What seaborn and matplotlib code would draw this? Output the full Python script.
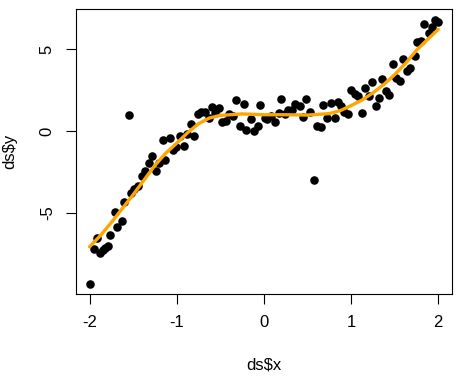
import matplotlib
matplotlib.use("Agg")
import matplotlib.pyplot as plt
import pandas as pd
import seaborn as sns

# Puntos
x_vals = [-2.00, -1.95, -1.92, -1.88, -1.85, -1.82, -1.79, -1.76, -1.71, -1.68,
          -1.63, -1.60, -1.55, -1.52, -1.49, -1.45, -1.40, -1.36, -1.32, -1.28,
          -1.24, -1.20, -1.16, -1.13, -1.08, -1.04, -1.01, -0.96, -0.92, -0.88,
          -0.84, -0.80, -0.76, -0.72, -0.68, -0.63, -0.60, -0.56, -0.52, -0.48,
          -0.44, -0.40, -0.36, -0.32, -0.28, -0.23, -0.20, -0.15, -0.11, -0.07,
          -0.04, 0.01, 0.04, 0.08, 0.13, 0.17, 0.20, 0.24, 0.28, 0.32,
          0.36, 0.41, 0.45, 0.48, 0.53, 0.57, 0.61, 0.65, 0.68, 0.72,
          0.77, 0.81, 0.85, 0.88, 0.92, 0.96, 1.00, 1.04, 1.08, 1.12,
          1.16, 1.20, 1.24, 1.28, 1.32, 1.36, 1.40, 1.44, 1.48, 1.52,
          1.56, 1.60, 1.64, 1.68, 1.73, 1.76, 1.80, 1.84, 1.89, 1.93,
          1.96, 2.00]
y_vals = [-9.34, -7.25, -6.56, -7.50, -7.30, -7.15, -7.05, -6.39, -4.98, -5.90,
          -5.53, -4.36, 0.98, -3.81, -3.52, -3.36, -2.73, -2.46, -1.97, -1.52,
          -2.42, -1.97, -0.55, -1.76, -0.41, -1.19, -0.98, -0.33, -0.90, -0.18,
          0.45, -0.29, 1.02, 1.19, 1.19, 0.80, 1.48, 1.11, 1.41, 0.55,
          0.64, 1.05, 0.94, 1.93, 0.29, 1.66, 0.08, 0.76, -0.02, 0.33,
          1.60, 0.80, 0.76, 0.90, 0.53, 1.11, 1.97, 1.02, 1.27, 1.31,
          1.68, 1.52, 0.86, 1.97, 1.15, -3.01, 0.33, 0.25, 1.60, 0.80,
          1.72, 0.80, 1.76, 1.56, 1.15, 1.05, 2.54, 2.30, 2.13, 1.11,
          2.64, 2.13, 3.01, 1.52, 2.01, 3.20, 2.48, 2.23, 4.12, 3.28,
          3.05, 4.43, 3.67, 3.89, 4.59, 5.47, 5.51, 6.58, 6.02, 6.37,
          6.80, 6.70]

# Curva suavizada (naranja)
curve_x = [-2.0, -1.875, -1.75, -1.625, -1.5, -1.375, -1.25, -1.125, -1.0, -0.875,
           -0.75, -0.625, -0.5, -0.25, 0.0, 0.25, 0.5, 0.75, 0.875, 1.0,
           1.125, 1.25, 1.375, 1.5, 1.625, 1.75, 1.875, 2.0]
curve_y = [-7.09, -6.40, -5.60, -4.75, -3.90, -3.00, -2.10, -1.35, -0.74, -0.10,
           0.45, 0.80, 0.96, 1.05, 1.00, 1.00, 0.98, 1.07, 1.25, 1.56,
           1.90, 2.34, 2.85, 3.46, 4.15, 4.95, 5.60, 6.23]

ds = pd.DataFrame({"x": x_vals, "y": y_vals})
curva = pd.DataFrame({"x": curve_x, "y": curve_y})

sns.set_style("white")
plt.rcParams["font.family"] = ["Liberation Sans", "DejaVu Sans"]
plt.rcParams["axes.unicode_minus"] = False

fig = plt.figure(figsize=(4.61, 3.79), dpi=100)
ax = fig.add_axes([0.164, 0.2235, 0.817, 0.752])

sns.scatterplot(data=ds, x="x", y="y", ax=ax, color="black", s=38,
                edgecolor="black", linewidth=0, legend=False)
sns.lineplot(data=curva, x="x", y="y", ax=ax, color="orange", linewidth=2.4,
             sort=False)

ax.set_xlim(-2.16, 2.16)
ax.set_ylim(-10.0, 7.46)
ax.set_xticks([-2, -1, 0, 1, 2])
ax.set_yticks([-5, 0, 5])
ax.set_yticklabels(["-5", "0", "5"], rotation=90, va="center")
ax.tick_params(axis="both", direction="out", length=7, width=0.8,
               color="black", labelcolor="black", labelsize=12, pad=8,
               bottom=True, left=True)
ax.set_xlabel("ds\\$x", fontsize=12, labelpad=20, color="black")
ax.set_ylabel("ds\\$y", fontsize=12, labelpad=16, color="black")

for s in ax.spines.values():
    s.set_color("black")
    s.set_linewidth(0.8)

plt.savefig("out.png", dpi=100)
